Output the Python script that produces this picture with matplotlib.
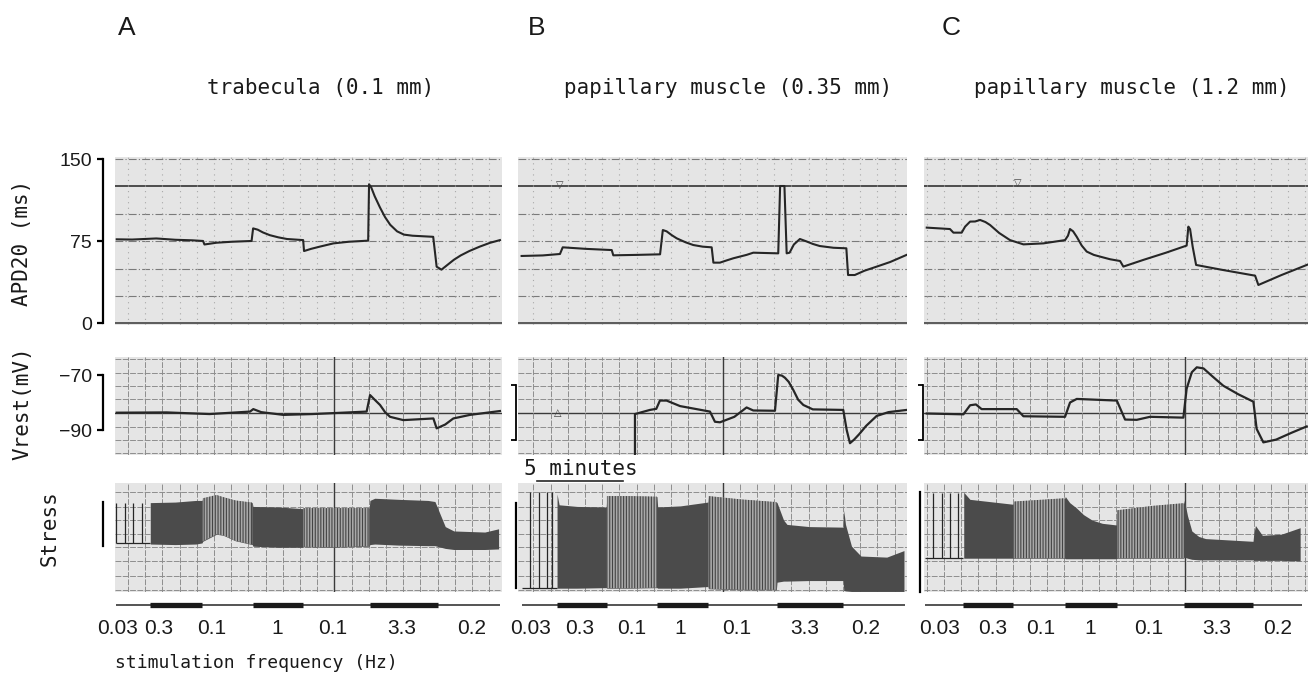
import numpy as np
import matplotlib
matplotlib.use("Agg")
import matplotlib.pyplot as plt

plt.rcParams['hatch.linewidth'] = 0.8
plt.rcParams['hatch.color'] = '#4a4a4a'

# ---- stimulation protocol (same sequence for the three preparations) ----
freq_labels = ['0.03', '0.3', '0.1', '1', '0.1', '3.3', '0.2']
freq_hz = [0.03, 0.3, 0.1, 1.0, 0.1, 3.3, 0.2]

# phase boundaries, minutes from the start of each record
A_edges = [0.05, 2.03, 5.08, 8.0, 10.92, 14.8, 18.75, 22.4]
B_edges = [0.27, 2.31, 5.21, 8.16, 11.12, 15.1, 18.98, 22.56]
C_edges = [0.29, 2.52, 5.43, 8.43, 11.44, 15.35, 19.38, 22.2]

# where the frequency labels sit (minutes)
A_label_t = [0.12, 2.56, 5.64, 9.42, 12.67, 16.69, 20.76]
B_label_t = [0.81, 3.66, 6.69, 9.48, 12.79, 16.74, 20.29]
C_label_t = [1.16, 4.24, 7.03, 9.88, 13.31, 17.27, 20.81]

# ---- APD20 (ms) ----
A_apd_t = [0.1, 1.0, 2.4, 3.5, 4.5, 5.12, 5.2, 5.9, 6.8, 7.94, 8.03, 8.3, 8.6, 9.0, 9.5,
           10.0, 10.94, 10.99, 11.4, 11.9, 12.7, 13.6, 14.72, 14.77, 14.9, 15.1, 15.4, 15.7,
           16.0, 16.4, 16.8, 17.3, 18.5, 18.7, 18.98, 19.3, 19.7, 20.1, 20.6, 21.2, 21.8, 22.38]
A_apd_v = [76.7, 76.5, 77.5, 76.3, 75.8, 75.2, 72, 73.6, 74.5, 75.2, 86.7, 85.5, 83, 80.5, 78.5,
           77, 76, 66, 68, 70, 73, 74.5, 75.5, 127, 124, 116, 106, 97,
           90, 84, 81, 80, 79, 51.7, 49, 53, 58, 62, 66, 70, 73.5, 76]

B_apd_t = [0.27, 1.5, 2.5, 2.66, 4.0, 5.51, 5.6, 7.0, 8.32, 8.48, 8.7, 9.0, 9.29, 9.8, 10.25,
           10.8, 11.32, 11.42, 11.8, 12.2, 12.58, 13.35, 13.74, 15.19, 15.3, 15.55, 15.68,
           15.85, 16.1, 16.45, 16.8, 17.2, 17.6, 18.4, 19.15, 19.25, 19.64, 20.2, 20.9, 21.7,
           22.64]
B_apd_v = [61.5, 62, 63.3, 69.4, 68, 66.9, 62.1, 62.5, 63, 85.2, 84, 80.5, 77.6, 74, 71.5,
           70, 69.4, 55.4, 55.4, 57.5, 59.4, 62.5, 64.5, 63.9, 125.4, 125.4, 63.9,
           64.5, 72, 77, 75, 72.5, 70.6, 69, 68.5, 44.1, 44.1, 48, 51.7, 56,
           62.4]

C_apd_t = [0.39, 1.74, 1.94, 2.42, 2.62, 2.91, 3.2, 3.49, 3.8, 4.07, 4.6, 5.23, 6.01, 7.17,
           8.43, 8.6, 8.72, 8.9, 9.11, 9.4, 9.69, 10.1, 10.47, 11.05, 11.63, 11.82, 13.0, 14.3,
           15.5, 15.6, 15.7, 15.85, 16.05, 17.5, 19.48, 19.67, 21.0, 22.58]
C_apd_v = [87.4, 86.1, 82.8, 82.8, 88.3, 92.9, 93, 94.4, 92.5, 89.8, 82.5, 76, 72.1, 73,
           76, 80, 86.1, 84, 79, 71, 65.5, 62.5, 60.9, 58.5, 56.9, 51.8, 58, 64.5,
           71, 88.3, 86, 70, 53.3, 49, 43.5, 35, 44, 53.9]

# ---- resting potential (mV) ----
A_vr_t = [0.1, 3.0, 5.5, 7.85, 8.04, 8.5, 9.79, 11.5, 14.63, 14.83, 15.1, 15.41, 15.7, 15.99,
          16.76, 18.51, 18.7, 19.2, 19.67, 20.64, 22.38]
A_vr_v = [-83.7, -83.6, -84.2, -83.3, -82.4, -83.5, -84.5, -84.2, -83.3, -77.3, -79, -80.9,
          -83.5, -85.2, -86.4, -85.8, -89.4, -88.0, -85.8, -84.5, -83.1]

B_vr_t = [6.86, 6.86, 7.73, 8.1, 8.31, 8.7, 9.48, 11.22, 11.51, 11.8, 12.64, 13.35, 13.74,
          15.0, 15.19, 15.4, 15.58, 15.8, 16.07, 16.35, 16.65, 17.2, 18.97, 19.17, 19.36,
          19.6, 19.9, 20.3, 20.91, 21.6, 22.66]
B_vr_v = [-101, -84.2, -82.7, -82.3, -79.3, -79.3, -81.3, -83.3, -87, -87.2, -85.2, -81.8, -82.9,
          -83, -70, -70.2, -71, -72.5, -75.5, -79, -80.9, -82.5, -82.7, -90, -94.8,
          -93.5, -91.5, -88.5, -84.9, -83.5, -82.7]

C_vr_t = [0.39, 2.52, 2.91, 3.25, 3.58, 5.62, 6.01, 8.43, 8.72, 9.11, 11.44, 11.92, 12.6,
          13.37, 15.31, 15.5, 15.8, 16.09, 16.48, 17.0, 17.63, 18.5, 19.38, 19.57, 19.96,
          20.7, 21.6, 22.48]
C_vr_v = [-84, -84.3, -81, -80.7, -82.4, -82.4, -85, -85.2, -80, -78.7, -79.3, -86.2, -86.3,
          -85.2, -85.5, -75, -69, -67.2, -67.6, -70.5, -73.9, -77, -79.7, -89.6, -94.5,
          -93.5, -91, -88.7]

# ---- stress (arbitrary units, chart height 0..100) ----
A_spike_t = [0.06, 0.58, 1.06, 1.55]
A_spike_top = 82
A_st_base = 44.6
A_st_t = [2.05, 3.5, 4.7, 5.06, 5.10, 5.9, 6.3, 7.0, 7.98, 8.02, 9.5, 10.9, 10.94, 12.5,
          14.78, 14.82, 15.1, 16.5, 18.2, 18.6, 19.2, 19.7, 21.5, 22.3]
A_st_top = [82, 82.5, 84, 84, 86, 89, 87, 84, 82, 78.5, 78, 76.5, 77, 77,
            77, 84, 86, 85, 84, 83, 60, 56, 55, 58]
A_st_bot = [44, 43.5, 44, 45, 46.5, 53, 52, 47, 43.5, 42, 41, 41, 41.5, 41,
            42, 43.5, 44, 43, 42.5, 42.5, 40, 39, 39, 39.5]

B_spike_t = [0.76, 1.3, 1.76, 2.05]
B_spike_top = 92
B_st_base = 3.4
B_st_t = [2.33, 2.45, 3.5, 5.19, 5.23, 6.5, 8.14, 8.18, 9.5, 11.1, 11.14, 13.0, 15.08,
          15.12, 15.5, 15.7, 17.0, 18.96, 19.0, 19.1, 19.45, 20.0, 21.5, 22.5]
B_st_top = [90, 80, 78.5, 78, 88, 88, 87.5, 78, 79, 82.5, 88, 85, 82.5,
            82, 66, 62, 60, 59.5, 75, 62, 42, 33, 32, 38]
B_st_bot = [3.5, 3.5, 3.5, 4, 3.5, 3.5, 4, 3.5, 3.5, 5, 3, 2, 2,
            9, 10, 10, 10.5, 10.5, 1.5, 1, 0.5, 0.5, 0.5, 0.5]

C_spike_t = [0.78, 1.26, 1.74, 2.23]
C_spike_top = 90.5
C_st_base = 31
C_st_t = [2.54, 2.9, 5.41, 5.45, 8.41, 8.45, 8.7, 9.1, 9.5, 10.0, 10.6, 11.42, 11.46, 13.5,
          15.33, 15.37, 15.55, 15.8, 16.2, 16.6, 19.36, 19.4, 19.5, 19.9, 21.0, 22.1]
C_st_top = [91.5, 85, 80.5, 83, 86, 87.5, 82, 77, 71, 66, 63, 61.5, 75, 79,
            81.5, 84, 70, 56, 51, 49, 46.5, 53, 61, 52, 53, 59]
C_st_bot = [31, 31, 31, 31, 31, 30.5, 30.5, 30.5, 30.5, 30.5, 30.5, 30.5, 31, 31,
            31, 32, 31, 30, 29.5, 29.5, 29.5, 29, 29, 29, 29, 28.5]

# ---------------------------------------------------------------------------
W, H = 1312, 677
fig = plt.figure(figsize=(W / 100, H / 100), dpi=100)

PAPER = '#e5e5e5'
INK = '#262626'
GRIDC = '#8e8e8e'
PX_MIN = 17.2   # pixels per minute on the chart paper


def box(x0, x1, y0, y1):
    return [x0 / W, 1 - y1 / H, (x1 - x0) / W, (y1 - y0) / H]


def paper(ax, t0, x0, x1):
    ax.set_facecolor(PAPER)
    for s in ax.spines.values():
        s.set_visible(False)
    ax.set_xticks([])
    ax.set_yticks([])
    ax.set_xlim(t0, t0 + (x1 - x0) / PX_MIN)


panels = [
    # x0, x1, t0, grid offset, dark grid index, edges, labels, apd, vr, stress
    (115, 502, 0.0, 0.75, 12, A_edges, A_label_t, (A_apd_t, A_apd_v), (A_vr_t, A_vr_v),
     (A_spike_t, A_spike_top, A_st_base, A_st_t, A_st_top, A_st_bot)),
    (518, 907, 0.06, 0.95, 11, B_edges, B_label_t, (B_apd_t, B_apd_v), (B_vr_t, B_vr_v),
     (B_spike_t, B_spike_top, B_st_base, B_st_t, B_st_top, B_st_bot)),
    (924, 1308, 0.23, 0.39, 15, C_edges, C_label_t, (C_apd_t, C_apd_v), (C_vr_t, C_vr_v),
     (C_spike_t, C_spike_top, C_st_base, C_st_t, C_st_top, C_st_bot)),
]

vr_grid = [-64.3, -69.4, -74, -78.8, -83.7, -88.8, -93.6, -98.5]
st_grid = [1.8, 14.7, 28, 41, 53.2, 66, 78.3, 92]

axes_rows = []
for k, (x0, x1, t0, goff, gdark, edges, lab_t, apd, vr, st) in enumerate(panels):
    ax1 = fig.add_axes(box(x0, x1, 157, 325))
    ax2 = fig.add_axes(box(x0, x1, 357, 455))
    ax3 = fig.add_axes(box(x0, x1, 483, 592))
    ax4 = fig.add_axes(box(x0, x1, 597, 645))
    for a in (ax1, ax2, ax3, ax4):
        paper(a, t0, x0, x1)
    ax4.axis('off')
    axes_rows.append((ax1, ax2, ax3))
    tmax = t0 + (x1 - x0) / PX_MIN
    gt = np.arange(goff, tmax, 1.0)

    # APD panel
    ax1.set_ylim(-1.55, 151.9)
    for v in [25, 50, 75, 100, 150]:
        ax1.axhline(v, color='#7a7a7a', lw=0.8, ls=(0, (7, 2, 1, 2)), zorder=1)
    ax1.axhline(125, color='#333333', lw=1.2, zorder=1)
    ax1.axhline(0, color='#444444', lw=1.2, zorder=1)
    for t in gt:
        ax1.axvline(t, color='#a8a8a8', lw=0.8, ls=(0, (1, 4)), zorder=1)
    ax1.plot(apd[0], apd[1], color=INK, lw=1.5, zorder=3)

    # Vrest panel
    ax2.set_ylim(-99.09, -63.45)
    for v in vr_grid:
        if v == -83.7:
            ax2.axhline(v, color='#3a3a3a', lw=1.0, zorder=1)
        else:
            ax2.axhline(v, color=GRIDC, lw=0.7, ls=(0, (6, 1.5)), zorder=1)
    for i, t in enumerate(gt):
        dark = i == gdark
        ax2.axvline(t, color='#3a3a3a' if dark else GRIDC, lw=1.0 if dark else 0.7,
                    ls='-' if dark else (0, (6, 1.5)), zorder=1)
    ax2.plot(vr[0], vr[1], color=INK, lw=1.6, zorder=3)

    # Stress panel
    ax3.set_ylim(0, 100)
    for v in st_grid:
        ax3.axhline(v, color=GRIDC, lw=0.7, ls=(0, (6, 1.5)), zorder=1)
    for i, t in enumerate(gt):
        dark = i == gdark
        ax3.axvline(t, color='#3a3a3a' if dark else GRIDC, lw=1.0 if dark else 0.7,
                    ls='-' if dark else (0, (6, 1.5)), zorder=1)
    sp_t, sp_top, base, s_t, s_top, s_bot = st
    ax3.hlines(base, edges[0], edges[1], color=INK, lw=0.9, zorder=3)
    ax3.vlines(sp_t, base, sp_top, color=INK, lw=0.9, zorder=3)
    s_t = np.array(s_t)
    ax3.fill_between(s_t, s_bot, s_top, color='#4b4b4b', lw=0, zorder=2)
    for i, f in enumerate(freq_hz):
        if f == 0.1:
            m = (s_t >= edges[i]) & (s_t <= edges[i + 1])
            ax3.fill_between(s_t, s_bot, s_top, where=m, facecolor='#a9a9a9',
                             edgecolor='#444444', hatch='||||||', lw=0, zorder=2.5)

    # stimulation bar and frequency labels
    ax4.set_ylim(0, 1)
    ax4.plot([edges[0], edges[-1]], [0.833, 0.833], color=INK, lw=1.1,
             solid_capstyle='butt')
    for i, f in enumerate(freq_hz):
        if f >= 0.3:
            ax4.plot([edges[i], edges[i + 1]], [0.833, 0.833], color='#1a1a1a', lw=3.8,
                     solid_capstyle='butt')
    for t, s in zip(lab_t, freq_labels):
        ax4.text(t, 0.354, s, ha='center', va='center', fontsize=15,
                 family='Liberation Sans', color='#1a1a1a', clip_on=False)

# ---- calibration axes and brackets ----
tick_font = dict(fontsize=14, family='Liberation Sans', color='#1a1a1a')

apdA, vrA, stA = axes_rows[0]
sp = apdA.spines['left']
sp.set_visible(True)
sp.set_position(('outward', 8.6))
sp.set_bounds(0, 150)
sp.set_linewidth(1.6)
apdA.set_yticks([0, 75, 150])
apdA.set_yticklabels(['0', '75', '150'], **tick_font)
apdA.tick_params(axis='y', length=4.3, width=1.6, pad=3.5)

sp = vrA.spines['left']
sp.set_visible(True)
sp.set_position(('outward', 8.6))
sp.set_bounds(-90, -70)
sp.set_linewidth(1.6)
vrA.set_yticks([-90, -70])
vrA.set_yticklabels(['\u221290', '\u221270'], **tick_font)
vrA.tick_params(axis='y', length=4.3, width=1.6, pad=3.5)

for (ax, out) in [(axes_rows[1][1], 1.5), (axes_rows[2][1], 1.0)]:
    sp = ax.spines['left']
    sp.set_visible(True)
    sp.set_position(('outward', out))
    sp.set_bounds(-93.6, -73.6)
    sp.set_linewidth(1.3)
    ax.set_yticks([-93.6, -73.6])
    ax.set_yticklabels(['', ''])
    ax.tick_params(axis='y', length=3.6, width=1.3)

for (ax, out, lo, hi) in [(stA, 8.6, 42.2, 82.6), (axes_rows[1][2], 1.5, 3.7, 81.7),
                          (axes_rows[2][2], 3.0, 0.3, 92)]:
    sp = ax.spines['left']
    sp.set_visible(True)
    sp.set_position(('outward', out))
    sp.set_bounds(lo, hi)
    sp.set_linewidth(1.6)

# small pen marks on the records
axes_rows[1][0].text(2.5, 126, '\u25bd', fontsize=7, ha='center', va='center', color='#444')
axes_rows[2][0].text(5.7, 128, '\u25bd', fontsize=7, ha='center', va='center', color='#444')
axes_rows[1][1].text(2.38, -83.8, '\u25b3', fontsize=7, ha='center', va='center', color='#444')

# 5 minute scale bar above the stress record of B
axes_rows[1][2].plot([1.16, 6.16], [102, 102], color=INK, lw=1.2, clip_on=False)

# ---- texts ----
mono = 'DejaVu Sans Mono'
for x, s in [(127, 'A'), (537, 'B'), (951, 'C')]:
    fig.text(x / W, 1 - 28 / H, s, fontsize=19, family='Liberation Sans',
             ha='center', va='center', color='#1a1a1a')
for x, s in [(321, 'trabecula (0.1 mm)'), (728, 'papillary muscle (0.35 mm)'),
             (1132, 'papillary muscle (1.2 mm)')]:
    fig.text(x / W, 1 - 88 / H, s, fontsize=15, family=mono,
             ha='center', va='center', color='#1a1a1a')

fig.text(22 / W, 1 - 243 / H, 'APD20 (ms)', rotation=90, fontsize=15, family=mono,
         ha='center', va='center', color='#1a1a1a')
fig.text(22 / W, 1 - 403 / H, 'Vrest(mV)', rotation=90, fontsize=15, family=mono,
         ha='center', va='center', color='#1a1a1a')
fig.text(50 / W, 1 - 528 / H, 'Stress', rotation=90, fontsize=15, family=mono,
         ha='center', va='center', color='#1a1a1a')
fig.text(581 / W, 1 - 469 / H, '5 minutes', fontsize=15, family=mono,
         ha='center', va='center', color='#1a1a1a')
fig.text(115 / W, 1 - 663 / H, 'stimulation frequency (Hz)', fontsize=13, family=mono,
         ha='left', va='center', color='#1a1a1a')

fig.savefig('out.png', dpi=100, facecolor='white')
